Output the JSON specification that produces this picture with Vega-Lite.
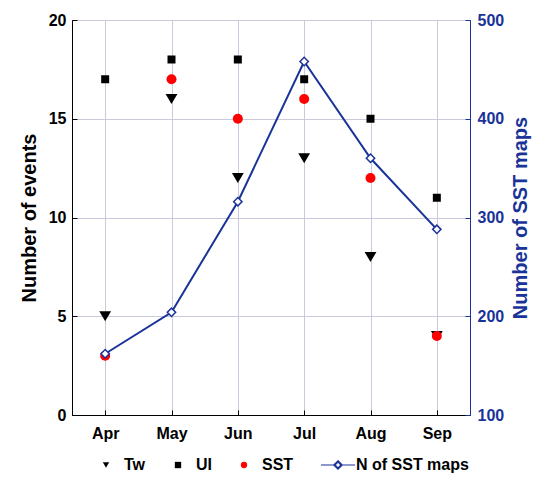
{
  "$schema": "https://vega.github.io/schema/vega-lite/v6.json",
  "autosize": "none",
  "width": 398,
  "height": 395,
  "padding": {"left": 72, "top": 20, "right": 80, "bottom": 74},
  "background": "white",
  "config": {
    "font": "Liberation Sans",
    "view": {"stroke": "black", "strokeWidth": 1},
    "axis": {
      "labelFont": "Liberation Sans",
      "labelFontWeight": "bold",
      "labelFontSize": 16,
      "labelColor": "black",
      "titleFont": "Liberation Sans",
      "titleFontWeight": "bold",
      "titleFontSize": 20,
      "titleColor": "black",
      "domainColor": "black",
      "tickColor": "black",
      "tickSize": -5,
      "gridColor": "#c9cadb",
      "gridOpacity": 1
    }
  },
  "data": {
    "values": [
      {"month": "Apr", "series": "Tw", "value": 5},
      {"month": "May", "series": "Tw", "value": 16},
      {"month": "Jun", "series": "Tw", "value": 12},
      {"month": "Jul", "series": "Tw", "value": 13},
      {"month": "Aug", "series": "Tw", "value": 8},
      {"month": "Sep", "series": "Tw", "value": 4},
      {"month": "Apr", "series": "UI", "value": 17},
      {"month": "May", "series": "UI", "value": 18},
      {"month": "Jun", "series": "UI", "value": 18},
      {"month": "Jul", "series": "UI", "value": 17},
      {"month": "Aug", "series": "UI", "value": 15},
      {"month": "Sep", "series": "UI", "value": 11},
      {"month": "Apr", "series": "SST", "value": 3},
      {"month": "May", "series": "SST", "value": 17},
      {"month": "Jun", "series": "SST", "value": 15},
      {"month": "Jul", "series": "SST", "value": 16},
      {"month": "Aug", "series": "SST", "value": 12},
      {"month": "Sep", "series": "SST", "value": 4},
      {"month": "Apr", "series": "N of SST maps", "value": 162},
      {"month": "May", "series": "N of SST maps", "value": 204},
      {"month": "Jun", "series": "N of SST maps", "value": 316},
      {"month": "Jul", "series": "N of SST maps", "value": 458},
      {"month": "Aug", "series": "N of SST maps", "value": 360},
      {"month": "Sep", "series": "N of SST maps", "value": 288}
    ]
  },
  "encoding": {
    "x": {
      "field": "month", "type": "ordinal",
      "scale": {"type": "point", "padding": 0.5, "domain": ["Apr", "May", "Jun", "Jul", "Aug", "Sep"]},
      "axis": {"title": null, "labelAngle": 0, "labelPadding": 15, "grid": true}
    }
  },
  "layer": [
    {
      "encoding": {
        "y": {
          "field": "value", "type": "quantitative",
          "scale": {"domain": [0, 20], "nice": false},
          "axis": {"title": "Number of events", "values": [0, 5, 10, 15, 20], "grid": true, "labelPadding": 11, "titlePadding": 9}
        },
        "shape": {
          "field": "series", "type": "nominal",
          "scale": {
            "domain": ["Tw", "UI", "SST", "N of SST maps"],
            "range": ["triangle-down", "square", "circle", "M-5.4,0L-1.3,0M1.3,0L5.4,0M0,-1.35L1.35,0L0,1.35L-1.35,0ZM0,-0.95L-0.95,0L0,0.95L0.95,0Z"]
          },
          "legend": {
            "title": null, "orient": "none", "direction": "horizontal",
            "legendX": 26, "legendY": 437,
            "labelFont": "Liberation Sans", "labelFontWeight": "bold", "labelFontSize": 16, "labelColor": "black",
            "symbolSize": 40, "labelOffset": 10, "columnPadding": 24,
            "encoding": {"symbols": {
              "stroke": {"condition": {"test": "datum.value === 'N of SST maps'", "value": "#1a3399"}, "value": "transparent"},
              "strokeWidth": {"value": 1.2}
            }}
          }
        },
        "color": {
          "field": "series", "type": "nominal",
          "scale": {"domain": ["Tw", "UI", "SST", "N of SST maps"], "range": ["black", "black", "#ff0000", "#1a3399"]},
          "legend": {
            "title": null, "orient": "none", "direction": "horizontal",
            "legendX": 26, "legendY": 437,
            "labelFont": "Liberation Sans", "labelFontWeight": "bold", "labelFontSize": 16, "labelColor": "black",
            "symbolSize": 40, "labelOffset": 10, "columnPadding": 24,
            "encoding": {"symbols": {
              "stroke": {"condition": {"test": "datum.value === 'N of SST maps'", "value": "#1a3399"}, "value": "transparent"},
              "strokeWidth": {"value": 1.2}
            }}
          }
        }
      },
      "layer": [
        {
          "transform": [{"filter": "datum.series === 'Tw'"}],
          "mark": {"type": "point", "filled": true, "opacity": 1, "size": 140}
        },
        {
          "transform": [{"filter": "datum.series === 'UI'"}],
          "mark": {"type": "point", "filled": true, "opacity": 1, "size": 64}
        },
        {
          "transform": [{"filter": "datum.series === 'SST'"}],
          "mark": {"type": "point", "filled": true, "opacity": 1, "size": 100}
        }
      ]
    },
    {
      "transform": [{"filter": "datum.series === 'N of SST maps'"}],
      "encoding": {
        "y": {
          "field": "value", "type": "quantitative",
          "scale": {"domain": [100, 500], "nice": false},
          "axis": {
            "orient": "right", "title": "Number of SST maps", "values": [100, 200, 300, 400, 500],
            "grid": false, "labelPadding": 12, "titlePadding": 27, "titleAngle": 270,
            "labelColor": "#1a3399", "titleColor": "#1a3399", "domainColor": "#1a3399", "tickColor": "#1a3399"
          }
        }
      },
      "layer": [
        {"mark": {"type": "line", "color": "#1a3399", "strokeWidth": 2}},
        {"mark": {"type": "point", "shape": "diamond", "size": 70, "filled": true, "fill": "white", "stroke": "#1a3399", "strokeWidth": 1.5, "opacity": 1}}
      ]
    }
  ],
  "resolve": {"scale": {"y": "independent"}}
}
